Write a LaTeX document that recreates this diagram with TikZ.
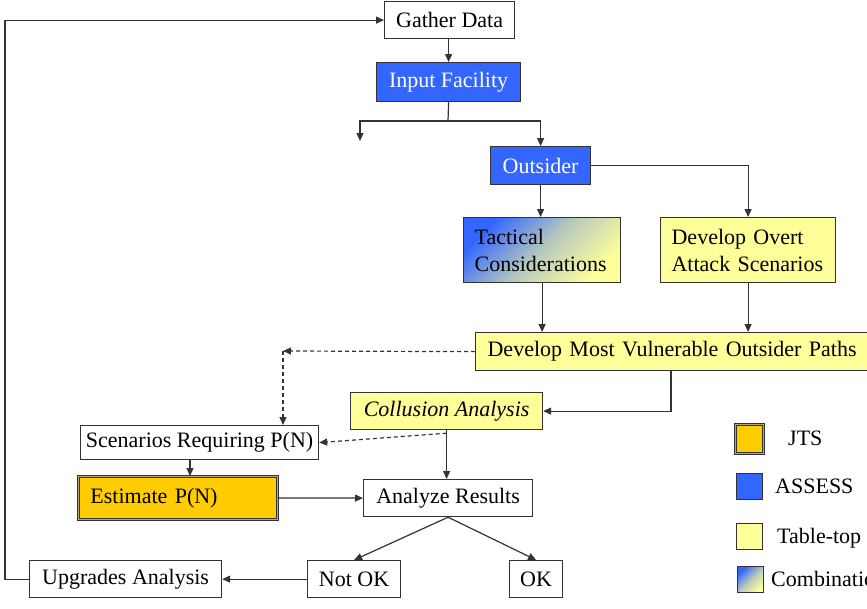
\documentclass[tikz,border=0pt]{standalone}
\usepackage{fontspec}
\setmainfont{Liberation Serif}
\usetikzlibrary{arrows.meta}
\definecolor{assess}{HTML}{3366FF}
\definecolor{tabletop}{HTML}{FFFF99}
\definecolor{jts}{HTML}{FFCC00}
\definecolor{ln}{HTML}{333333}
\definecolor{jtsgap}{HTML}{B8A870}
\begin{document}
\begin{tikzpicture}[x=1pt,y=-1pt,
  box/.style={draw=ln, line width=1.2pt, rectangle, inner sep=0pt, anchor=north west,
    font=\fontsize{22}{27}\selectfont},
  bluebox/.style={box, fill=assess, text=white},
  ttbox/.style={box, fill=tabletop},
  jtsbox/.style={box, fill=jts, double=jtsgap, double distance=1.6pt, line width=0.9pt},
  combo/.style={box, top color=assess, bottom color=tabletop, middle color=assess!35!tabletop, shading angle=45},
  lefttext/.style={align=left, inner xsep=#1},
  arr/.style={draw=ln, line width=1.2pt, -{Triangle[length=8pt,width=7pt]}},
  darr/.style={arr, dashed, dash pattern=on 4pt off 3pt},
  legtext/.style={anchor=west, inner sep=0pt, font=\fontsize{22}{27}\selectfont}
]
\useasboundingbox (0,0) rectangle (867,608);

% main boxes
\node[box, minimum width=130, minimum height=37] (gather) at (384,1) {Gather Data};
\node[bluebox, minimum width=144, minimum height=39] (input) at (376,62) {\raisebox{-2pt}{Input Facility}};
\node[bluebox, minimum width=100, minimum height=38] (outsider) at (490,146) {Outsider};
\node[combo, minimum width=157, minimum height=65, lefttext=11pt, text width=135pt] (tactical) at (463,217) {Tactical\\Considerations};
\node[ttbox, minimum width=175, minimum height=65, lefttext=11pt, text width=153pt] (overt) at (660,217) {Develop Overt\\Attack Scenarios};
\node[ttbox, minimum width=410, minimum height=38, lefttext=12pt, text width=386pt] (dmvop) at (475,332) {Develop Most Vulnerable Outsider Paths};
\node[ttbox, minimum width=192, minimum height=37, font=\fontsize{22}{27}\selectfont\itshape] (collusion) at (350,392) {Collusion Analysis};
\node[box, minimum width=238, minimum height=34] (scen) at (80,425) {Scenarios Requiring P(N)};
\node[jtsbox, minimum width=199, minimum height=43, lefttext=12pt, text width=175pt] (estimate) at (78,476) {Estimate P(N)};
\node[box, minimum width=169, minimum height=37] (analyze) at (363,479) {Analyze Results};
\node[box, minimum width=93, minimum height=37] (notok) at (307,560) {Not OK};
\node[box, minimum width=53, minimum height=37] (ok) at (509,560) {OK};
\node[box, minimum width=192, minimum height=37] (upgrades) at (29,560) {Upgrades Analysis};

% legend
\node[jtsbox, minimum width=28, minimum height=29] (ljts) at (735,424) {};
\node[bluebox, minimum width=26, minimum height=26] (lassess) at (736,473) {};
\node[ttbox, minimum width=26, minimum height=26] (ltt) at (736,523) {};
\node[combo, minimum width=26, minimum height=26] (lcombo) at (737,566) {};
\node[legtext] (tjts) at (788,438) {JTS};
\node[legtext] (tassess) at (775,486) {ASSESS};
\node[legtext] (ttt) at (777,538) {Table-top};
\node[legtext] (tcombo) at (771,579) {Combination};

% connectors
\coordinate (br) at (448,121);
\coordinate (lfree) at (360,141);
\draw[arr] (gather.south -| input.south) -- (input.north);
\draw[draw=ln, line width=1.2pt] (input.south) -- (br);
\draw[arr] (br) -| (lfree);
\draw[arr] (br) -| (outsider.north);
\draw[arr] (outsider.south) -- (outsider.south |- tactical.north);
\draw[arr] (outsider.east) -| (overt.north);
\draw[arr] (tactical.south) -- (tactical.south |- dmvop.north);
\draw[arr] (overt.south) -- (overt.south |- dmvop.north);
\coordinate (dc) at (283,351);
\draw[darr] (dmvop.west) -- (dc);
\draw[darr] (dc) -- (dc |- scen.north);
\draw[arr] (671,0 |- dmvop.south) |- (collusion.east);
\draw[darr] ([yshift=-3pt]collusion.south) -- (scen.east);
\draw[arr] (collusion.south) -- (collusion.south |- analyze.north);
\draw[arr] (190,0 |- scen.south) -- (190,0 |- estimate.north);
\draw[arr] (estimate.east) -- (analyze.west);
\draw[arr] (analyze.south) -- (notok.north);
\draw[arr] (analyze.south) -- (ok.north);
\draw[arr] (notok.west) -- (upgrades.east);
\draw[arr] (upgrades.west) -- ++(-24,0) |- (gather.west);
\end{tikzpicture}
\end{document}
